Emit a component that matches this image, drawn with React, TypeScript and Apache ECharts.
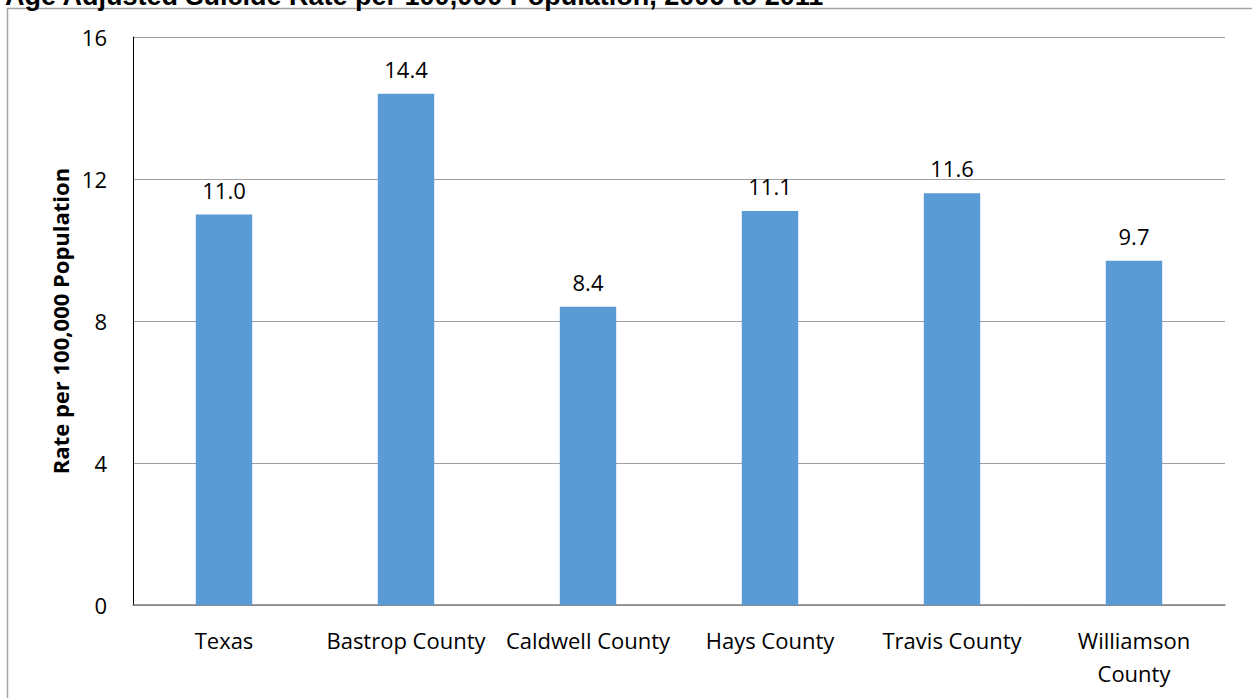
import React, { useEffect, useRef } from "react";
import * as echarts from "echarts";

const categories = ["Texas", "Bastrop County", "Caldwell County", "Hays County", "Travis County", "Williamson\nCounty"];
const rates = [11.0, 14.4, 8.4, 11.1, 11.6, 9.7];
const titleText = "Age Adjusted Suicide Rate per 100,000 Population, 2006 to 2011";
const yAxisName = "Rate per 100,000 Population";

const FONT = "'Open Sans', 'Noto Sans', sans-serif";

export default function App() {
  const ref = useRef<HTMLDivElement>(null);
  useEffect(() => {
    document.body.style.margin = "0";
    const chart = echarts.init(ref.current!, null, { renderer: "svg" });
    chart.setOption({
      animation: false,
      backgroundColor: "#ffffff",
      graphic: [
        {
          type: "rect",
          shape: { x: 7.5, y: 8.5, width: 1400, height: 900 },
          style: { fill: "none", stroke: "#a6a6a6", lineWidth: 1.5 },
          silent: true,
        },
        {
          type: "text",
          x: 5,
          y: -18,
          style: {
            text: titleText,
            font: "bold 27px 'Liberation Sans', Arial, sans-serif",
            fill: "#000",
          },
        },
      ],
      grid: { left: 133, right: 27, top: 37, bottom: 93, containLabel: false },
      xAxis: {
        type: "category",
        data: categories,
        axisLine: { lineStyle: { color: "#808080", width: 1.5 } },
        axisTick: { show: false },
        axisLabel: {
          color: "#000",
          fontSize: 22,
          fontFamily: FONT,
          margin: 18,
          lineHeight: 33,
          interval: 0,
        },
      },
      yAxis: {
        type: "value",
        min: 0,
        max: 16,
        interval: 4,
        name: yAxisName,
        nameLocation: "middle",
        nameGap: 62,
        nameTextStyle: { color: "#000", fontSize: 22, fontWeight: "bold", fontFamily: FONT },
        axisLine: { show: true, lineStyle: { color: "#000", width: 1 } },
        axisTick: { show: false },
        axisLabel: { color: "#000", fontSize: 22, fontFamily: FONT, margin: 26 },
        splitLine: { lineStyle: { color: "#a0a0a0", width: 1 } },
      },
      series: [
        {
          type: "bar",
          data: rates,
          barWidth: "31%",
          itemStyle: { color: "#5B9BD5" },
          label: {
            show: true,
            position: "top",
            distance: 14,
            color: "#000",
            fontSize: 22,
            fontFamily: FONT,
            formatter: (p: any) => p.value.toFixed(1),
          },
        },
      ],
    });
    return () => chart.dispose();
  }, []);
  return <div ref={ref} style={{ width: 1252, height: 698, position: "absolute", left: 0, top: 0 }} />;
}
